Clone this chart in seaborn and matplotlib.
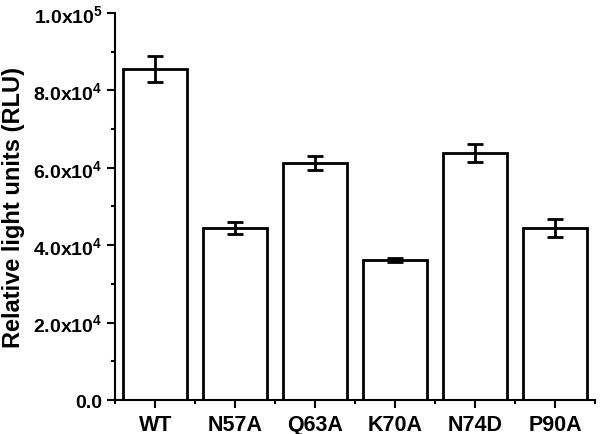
import matplotlib
matplotlib.use("Agg")
import matplotlib.pyplot as plt
import seaborn as sns
import pandas as pd
import numpy as np
from matplotlib.ticker import MultipleLocator, FixedLocator, FuncFormatter

categories = ["WT", "N57A", "Q63A", "K70A", "N74D", "P90A"]
values = [85500, 44400, 61200, 36200, 63800, 44400]
errors = [3400, 1500, 1800, 500, 2300, 2300]

sns.set_theme(style="ticks")
plt.rcParams["font.family"] = ["Liberation Sans", "DejaVu Sans"]
plt.rcParams["font.weight"] = "bold"
plt.rcParams["mathtext.fontset"] = "custom"
plt.rcParams["mathtext.rm"] = "Liberation Sans:bold"
plt.rcParams["mathtext.it"] = "Liberation Sans:bold"
plt.rcParams["mathtext.bf"] = "Liberation Sans:bold"

df = pd.DataFrame({"cat": categories, "val": values, "err": errors})

fig = plt.figure(figsize=(6, 4.35), dpi=100)
ax = fig.add_axes([0.192, 0.078, 0.8, 0.89])

sns.barplot(data=df, x="cat", y="val", ax=ax, color="white", edgecolor="black",
            linewidth=2, width=0.8, errorbar=None, saturation=1)
ax.errorbar(np.arange(len(categories)), df["val"], yerr=df["err"], fmt="none",
            ecolor="black", elinewidth=2, capsize=6, capthick=2)

ax.set_xlim(-0.5, 5.5)
ax.set_ylim(0, 100000)
ax.yaxis.set_major_locator(MultipleLocator(20000))
ax.yaxis.set_minor_locator(MultipleLocator(10000))

def fmt(v, pos):
    if v <= 0:
        return "0.0"
    e = int(np.floor(np.log10(v) + 1e-9))
    m = v / 10 ** e
    return r"%.1fx10$^{%d}$" % (m, e)

ax.yaxis.set_major_formatter(FuncFormatter(fmt))
ax.xaxis.set_minor_locator(FixedLocator(np.arange(-0.5, 6, 1.0)))

for s in ["top", "right"]:
    ax.spines[s].set_visible(False)
for s in ["left", "bottom"]:
    ax.spines[s].set_linewidth(1.5)
    ax.spines[s].set_color("black")

ax.tick_params(axis="both", which="major", direction="out", length=6, width=1.5,
               color="black", labelcolor="black")
ax.tick_params(axis="both", which="minor", direction="out", length=3, width=1.5,
               color="black")
ax.tick_params(axis="y", labelsize=14, pad=3)
ax.tick_params(axis="x", labelsize=15.5, pad=4)
for lbl in ax.get_xticklabels() + ax.get_yticklabels():
    lbl.set_fontweight("bold")

ax.set_xlabel("")
ax.set_ylabel("Relative light units (RLU)", fontsize=17, fontweight="bold",
              color="black", labelpad=6)

fig.savefig("out.png", dpi=100, facecolor="white")
